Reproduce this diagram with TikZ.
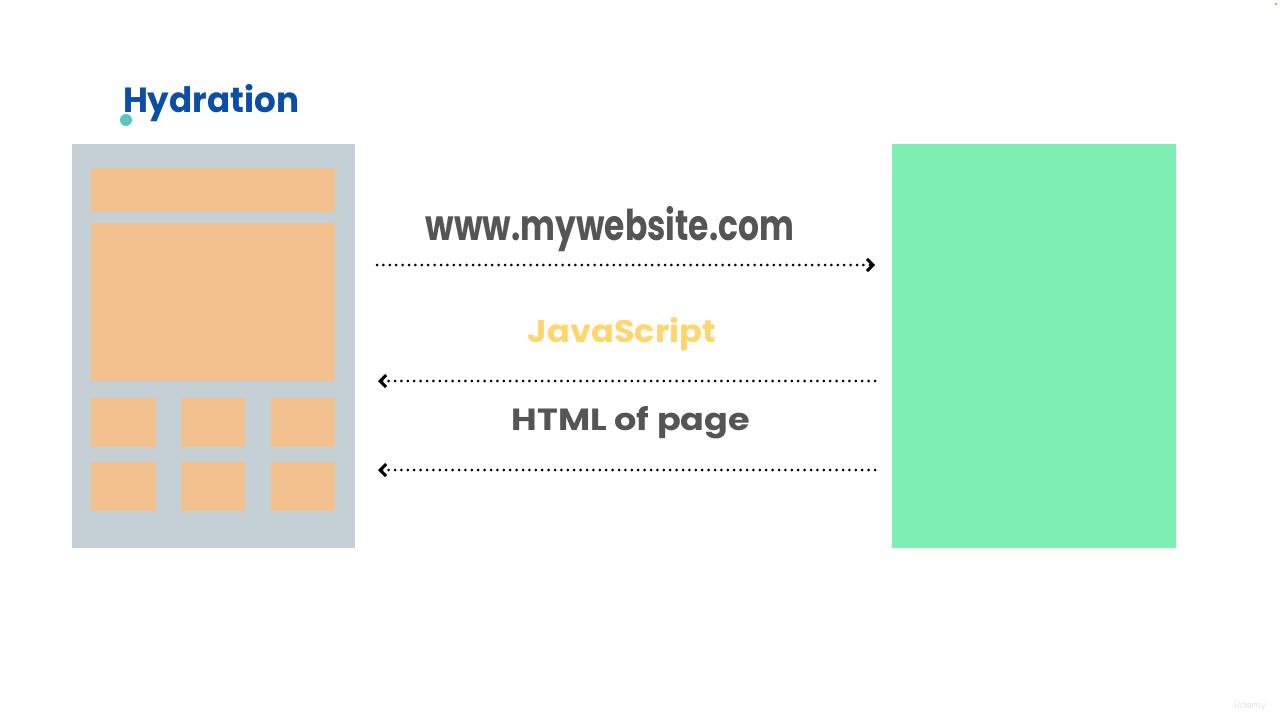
\documentclass[tikz,border=0pt]{standalone}
\usepackage{fontspec}
\setmainfont{Poppins}
\usepackage{graphicx}
\usetikzlibrary{arrows.meta}
\definecolor{panelgray}{HTML}{C5CFD6}
\definecolor{blockorange}{HTML}{F3C18D}
\definecolor{servergreen}{HTML}{7FEEB2}
\definecolor{titleblue}{HTML}{0B4EA6}
\definecolor{textgray}{HTML}{555555}
\definecolor{jsyellow}{HTML}{FFD66E}
\definecolor{cursorteal}{HTML}{3EBDB4}
\tikzset{
  panel/.style={fill=panelgray, draw=none},
  block/.style={fill=blockorange, draw=none},
  server/.style={fill=servergreen, draw=none},
  flow/.style={line width=3pt, line cap=round, dash pattern=on 0pt off 6.4pt,
    -{Straight Barb[length=6pt,width=12pt,line width=3pt]}},
  label/.style={inner sep=0pt, anchor=base, font=\bfseries},
}
\begin{document}
\begin{tikzpicture}[x=1pt,y=-1pt]
\useasboundingbox (0,0) rectangle (1280,720);
\fill[white] (0,0) rectangle (1280,720);
% client page
\path[panel] (72,144) rectangle (355,548);
\node[inner sep=0pt] (client) at (213.5,346) {};
\path[block] (91.3,168) rectangle (335.3,211.7);
\path[block] (91.3,223.3) rectangle (335.3,381.3);
\path[block] (91.3,398.3) rectangle (155.7,447.3);
\path[block] (181,398.3) rectangle (245.3,447.3);
\path[block] (271,398.3) rectangle (335.3,447.3);
\path[block] (91.3,462) rectangle (155.7,511);
\path[block] (181,462) rectangle (245.3,511);
\path[block] (271,462) rectangle (335.3,511);
% server
\path[server] (892,144) rectangle (1176,548);
\node[inner sep=0pt] (server) at (1034,346) {};
% title
\node[label, text=titleblue] (title) at (211,112) {\resizebox{176pt}{28pt}{Hydration}};
\fill[cursorteal, opacity=0.85] (126,120) circle (6);
% labels
\node[label, text=textgray] (url) at (610,240) {\resizebox{368pt}{34pt}{www.mywebsite.com}};
\node[label, text=jsyellow] (js) at (622,342) {\resizebox{188pt}{25pt}{JavaScript}};
\node[label, text=textgray] (html) at (631,430) {\resizebox{238pt}{24pt}{HTML of page}};
% arrow end points
\coordinate (r1) at (377,265);
\coordinate (s1) at (875,265);
\coordinate (s2) at (875,381);
\coordinate (r2) at (378,381);
\coordinate (s3) at (875,470);
\coordinate (r3) at (378,470);
\draw[flow] (r1) -- (s1);
\draw[flow] (s2) -- (r2);
\draw[flow] (s3) -- (r3);
% watermark and small dot
\node[text=gray!20, font=\small, inner sep=0pt] (wm) at (1250,706) {Ûdemy};
\fill[blockorange!80!red] (1276,4) circle (1.5);
\end{tikzpicture}
\end{document}
